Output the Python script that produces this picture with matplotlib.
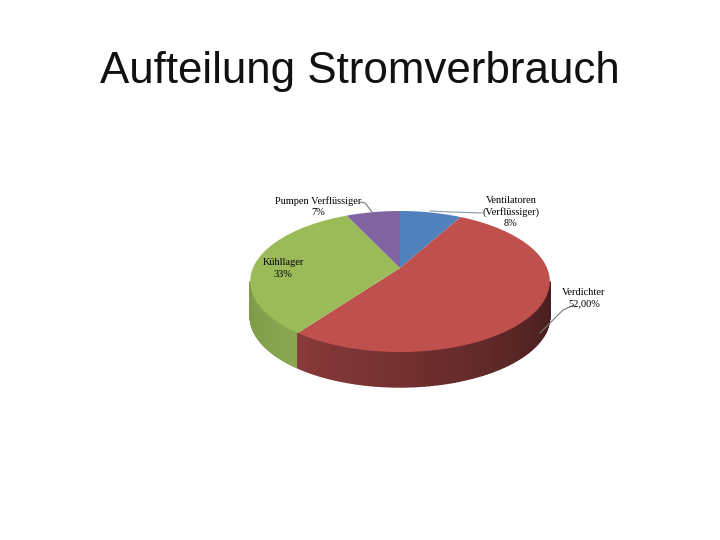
import matplotlib
matplotlib.use("Agg")
import matplotlib.pyplot as plt
import numpy as np

plt.rcParams["font.family"] = ["Liberation Serif", "DejaVu Serif"]

TITLE = "Aufteilung Stromverbrauch"
categories = ["Ventilatoren\n(Verflüssiger)", "Verdichter", "Kühllager", "Pumpen Verflüssiger"]
value_labels = ["8%", "52,00%", "33%", "7%"]
values = [8, 52, 33, 7]
colors = ["#4f81bd", "#c0504d", "#9bbb59", "#8064a2"]
# wall shade per slice, start and end of the sweep (clockwise)
wall_shades = {1: ("#431c1c", "#8a3a3a"), 2: ("#88a850", "#7f9a4a")}

# perspective of the pie, in pixels
AX, AY = 400, 268
R, S, K = 147, 67.9, 0.1916
DEPTH = 35


def project(a):
    u, v = np.sin(a), np.cos(a)
    w = 1 + K * v
    return AX + R * u / w, AY - S * v / w


def mix(c1, c2, t):
    c1 = np.array(matplotlib.colors.to_rgb(c1))
    c2 = np.array(matplotlib.colors.to_rgb(c2))
    return tuple(c1 + (c2 - c1) * t)


fig = plt.figure(figsize=(7.2, 5.4), dpi=100)
ax = fig.add_axes([0, 0, 1, 1])
ax.set_xlim(0, 720)
ax.set_ylim(540, 0)
ax.axis("off")

edges = np.radians(np.cumsum([0] + values) * 3.6)

# side wall, strips from right to left, only the part facing the viewer
for i in (1, 2):
    start = max(edges[i], np.radians(101))
    stop = min(edges[i + 1], np.radians(259))
    steps = np.linspace(start, stop, 80)
    for j in range(len(steps) - 1):
        t = j / (len(steps) - 1)
        c = mix(*wall_shades[i], t)
        x0, y0 = project(steps[j])
        x1, y1 = project(steps[j + 1])
        ax.fill([x0, x1, x1, x0], [y0, y1, y1 + DEPTH, y0 + DEPTH],
                facecolor=c, edgecolor=c, lw=1.0, zorder=1 + t)

# top of the pie
for i in range(len(values)):
    a = np.linspace(edges[i], edges[i + 1], 120)
    x, y = project(a)
    ax.fill(np.r_[AX, x], np.r_[AY, y], color=colors[i], lw=0, zorder=3)

# labels
label_pos = [(511, 212), (584, 298), (283, 268.5), (318, 206.5)]
for name, val, (x, y) in zip(categories, value_labels, label_pos):
    ax.text(x, y, f"{name}\n{val}", ha="center", va="center", fontsize=7.5,
            linespacing=1.3, color="#000000", zorder=5)

# leader lines
ax.plot([482, 452, 430], [213, 212, 211], color="#8a9aa8", lw=0.8, zorder=4)
ax.plot([572, 563, 540], [306, 310, 333], color="#777777", lw=0.8, zorder=4)
ax.plot([360, 365, 372], [202, 203, 212], color="#777777", lw=0.8, zorder=4)

ax.text(360, 72, TITLE, ha="center", va="center", fontsize=31.6,
        family="Liberation Sans", color="#111111")

fig.savefig("out.png", dpi=100)
plt.close(fig)
